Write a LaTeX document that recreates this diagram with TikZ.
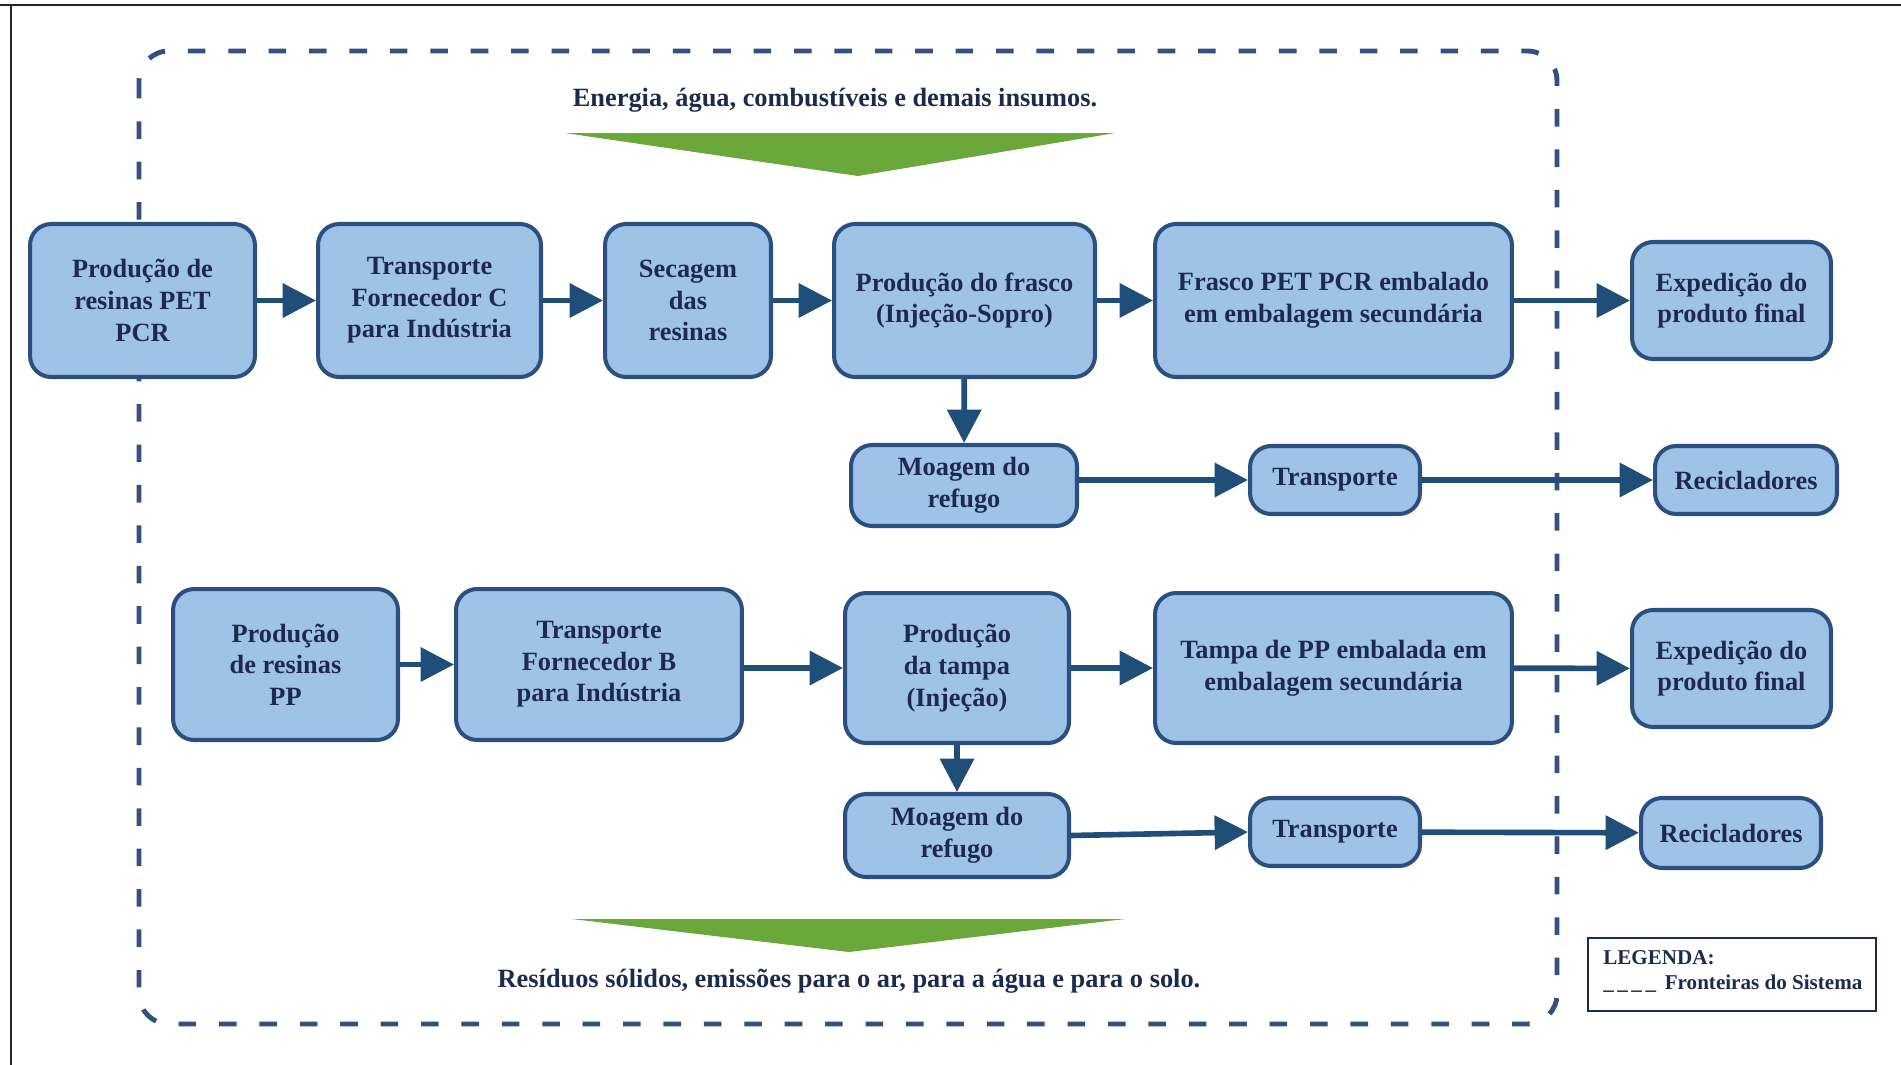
\documentclass[tikz,border=0pt]{standalone}
\usepackage{fontspec}
\setmainfont{Liberation Serif}
\usetikzlibrary{arrows.meta}
\definecolor{boxfill}{HTML}{9FC3E7}
\definecolor{boxedge}{HTML}{2B4F7E}
\definecolor{flow}{HTML}{1F4E79}
\definecolor{ink}{HTML}{1C2A4F}
\definecolor{bound}{HTML}{34507E}
\definecolor{leaf}{HTML}{6AA83B}

\begin{document}
\begin{tikzpicture}[x=0.02cm,y=-0.02cm,
  proc/.style={draw=boxedge, line width=2.3pt, fill=boxfill, rounded corners=12pt,
    align=center, inner sep=0pt, text=ink, font=\fontsize{15}{18}\selectfont\bfseries},
  flowarrow/.style={draw=flow, line width=3.2pt, -{Triangle[length=19pt,width=19pt]}},
  boundary/.style={draw=bound, line width=2.8pt, dash pattern=on 10pt off 13pt, rounded corners=17pt},
  label/.style={text=ink, font=\fontsize{15}{18}\selectfont\bfseries, inner sep=0pt},
  legendtext/.style={text=ink, font=\fontsize{12}{14}\selectfont\bfseries, inner sep=0pt, anchor=west},
  frame/.style={draw=black!85, line width=1.6pt}
]
\useasboundingbox (0,0) rectangle (1901,1065);

% page frame
\draw[frame] (0,5) -- (1901,5);
\draw[frame] (11,5) -- (11,1065);

% system boundary
\draw[boundary] (139,51) rectangle (1557,1024);

% inputs and outputs
\node[label] (inputs) at (835,100) {Energia, água, combustíveis e demais insumos.};
\fill[leaf] (565,133) -- (1115,133) -- (858,176) -- cycle;
\fill[leaf] (572,919) -- (1125,919) -- (849,952) -- cycle;
\node[label] (outputs) at (849,981) {Resíduos sólidos, emissões para o ar, para a água e para o solo.};

% PET bottle chain
\node[proc, minimum width=4.5cm, minimum height=3.06cm] (petres) at (142.5,300.5) {Produção de\\resinas PET\\PCR};
\node[proc, minimum width=4.46cm, minimum height=3.06cm] (transpC) at (429.5,300.5) {Transporte\\Fornecedor C\\para Indústria};
\node[proc, minimum width=3.32cm, minimum height=3.06cm] (secagem) at (688,300.5) {Secagem\\das\\resinas};
\node[proc, minimum width=5.22cm, minimum height=3.06cm] (frasco) at (964.5,300.5) {Produção do frasco\\(Injeção-Sopro)};
\node[proc, minimum width=7.14cm, minimum height=3.06cm] (frascoemb) at (1333.5,300.5) {Frasco PET PCR embalado\\em embalagem secundária};
\node[proc, minimum width=3.98cm, minimum height=2.34cm] (exped1) at (1731.5,300.5) {Expedição do\\produto final};

\node[proc, minimum width=4.52cm, minimum height=1.62cm] (moagem1) at (964,485.5) {Moagem do\\refugo};
\node[proc, minimum width=3.4cm, minimum height=1.36cm] (transp1) at (1335,480) {Transporte};
\node[proc, minimum width=3.64cm, minimum height=1.36cm] (recic1) at (1746,480) {Recicladores};

% PP cap chain
\node[proc, minimum width=4.5cm, minimum height=3.02cm] (ppres) at (285.5,664.5) {Produção\\de resinas\\PP};
\node[proc, minimum width=5.72cm, minimum height=3.02cm] (transpB) at (599,664.5) {Transporte\\Fornecedor B\\para Indústria};
\node[proc, minimum width=4.48cm, minimum height=3.0cm] (tampa) at (957,668) {Produção\\da tampa\\(Injeção)};
\node[proc, minimum width=7.14cm, minimum height=3.0cm] (tampaemb) at (1333.5,668) {Tampa de PP embalada em\\embalagem secundária};
\node[proc, minimum width=3.98cm, minimum height=2.34cm] (exped2) at (1731.5,668.5) {Expedição do\\produto final};

\node[proc, minimum width=4.48cm, minimum height=1.66cm] (moagem2) at (957,835.5) {Moagem do\\refugo};
\node[proc, minimum width=3.4cm, minimum height=1.36cm] (transp2) at (1335,832) {Transporte};
\node[proc, minimum width=3.6cm, minimum height=1.4cm] (recic2) at (1731,833) {Recicladores};

% flows
\draw[flowarrow] (petres) -- (transpC);
\draw[flowarrow] (transpC) -- (secagem);
\draw[flowarrow] (secagem) -- (frasco);
\draw[flowarrow] (frasco) -- (frascoemb);
\draw[flowarrow] (frascoemb) -- (exped1);
\draw[flowarrow] (frasco) -- (moagem1);
\draw[flowarrow] (moagem1.east |- transp1) -- (transp1);
\draw[flowarrow] (transp1) -- (recic1);

\draw[flowarrow] (ppres) -- (transpB);
\draw[flowarrow] (transpB.east |- tampa) -- (tampa.west);
\draw[flowarrow] (tampa) -- (tampaemb);
\draw[flowarrow] (tampaemb) -- (exped2);
\draw[flowarrow] (tampa) -- (moagem2);
\draw[flowarrow] (moagem2.east) -- (transp2.west);
\draw[flowarrow] (transp2) -- (recic2);

% legend
\node[draw=ink, line width=1.2pt, minimum width=5.76cm, minimum height=1.46cm, inner sep=0pt] (legend) at (1732,974.5) {};
\node[legendtext] (legtitle) at (1603,958) {LEGENDA:};
\node[legendtext] (legentry) at (1603,984) {\_\kern2pt\_\kern2pt\_\kern2pt\_\kern5pt Fronteiras do Sistema};
\end{tikzpicture}
\end{document}
